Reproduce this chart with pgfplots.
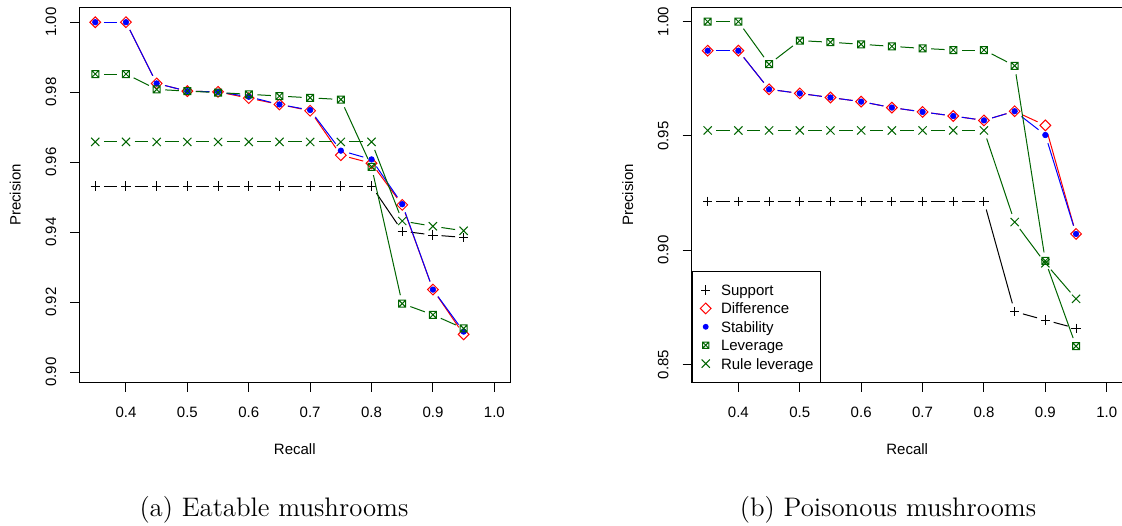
\documentclass[border=0pt]{standalone}
\usepackage{fontspec}
\usepackage{pgfplots}
\usepackage{pgfplotstable}
\pgfplotsset{compat=1.18}
\usetikzlibrary{decorations.pathreplacing}
\newfontfamily\rfont{Liberation Sans}
\definecolor{dgreen}{RGB}{0,100,0}

\pgfdeclareplotmark{boxx}{%
  \pgfpathrectangle{\pgfqpoint{-\pgfplotmarksize}{-\pgfplotmarksize}}{\pgfqpoint{2\pgfplotmarksize}{2\pgfplotmarksize}}%
  \pgfpathmoveto{\pgfqpoint{-\pgfplotmarksize}{-\pgfplotmarksize}}%
  \pgfpathlineto{\pgfqpoint{\pgfplotmarksize}{\pgfplotmarksize}}%
  \pgfpathmoveto{\pgfqpoint{-\pgfplotmarksize}{\pgfplotmarksize}}%
  \pgfpathlineto{\pgfqpoint{\pgfplotmarksize}{-\pgfplotmarksize}}%
  \pgfusepathqstroke}

\tikzset{gapline/.style={mark=none, decorate, decoration={show path construction,
  lineto code={\draw[decorate=false, #1, line width=0.5pt, shorten <=4.3pt, shorten >=4.3pt] (\tikzinputsegmentfirst) -- (\tikzinputsegmentlast);}}}}

% Eatable mushrooms
\pgfplotstableread{
x    sup    dif    sta    lev    rlev
0.35 0.9532 1.0000 1.0000 0.9852 0.9658
0.40 0.9532 1.0000 1.0000 0.9852 0.9658
0.45 0.9532 0.9825 0.9825 0.9808 0.9658
0.50 0.9532 0.9803 0.9803 0.9803 0.9658
0.55 0.9532 0.9801 0.9801 0.9799 0.9658
0.60 0.9532 0.9783 0.9787 0.9794 0.9658
0.65 0.9532 0.9765 0.9765 0.9789 0.9658
0.70 0.9532 0.9747 0.9749 0.9784 0.9658
0.75 0.9532 0.9620 0.9633 0.9779 0.9658
0.80 0.9532 0.9597 0.9608 0.9587 0.9658
0.85 0.9403 0.9478 0.9480 0.9196 0.9432
0.90 0.9392 0.9236 0.9236 0.9164 0.9417
0.95 0.9385 0.9108 0.9116 0.9125 0.9404
}\tabA

% Poisonous mushrooms
\pgfplotstableread{
x    sup    dif    sta    lev    rlev
0.35 0.9214 0.9873 0.9873 1.0000 0.9524
0.40 0.9214 0.9873 0.9873 1.0000 0.9524
0.45 0.9214 0.9704 0.9704 0.9814 0.9524
0.50 0.9214 0.9686 0.9686 0.9917 0.9524
0.55 0.9214 0.9668 0.9668 0.9910 0.9524
0.60 0.9214 0.9650 0.9650 0.9901 0.9524
0.65 0.9214 0.9624 0.9624 0.9892 0.9524
0.70 0.9214 0.9605 0.9605 0.9883 0.9524
0.75 0.9214 0.9587 0.9587 0.9876 0.9524
0.80 0.9214 0.9568 0.9568 0.9876 0.9524
0.85 0.8731 0.9608 0.9608 0.9807 0.9123
0.90 0.8694 0.9546 0.9504 0.8953 0.8943
0.95 0.8658 0.9071 0.9071 0.8580 0.8787
}\tabB

\pgfplotsset{
  rplot/.style={
    scale only axis, width=215.5pt, height=187.6pt,
    xmin=0.324, xmax=1.026,
    xtick={0.4,0.5,0.6,0.7,0.8,0.9,1.0},
    xticklabels={0.4,0.5,0.6,0.7,0.8,0.9,1.0},
    tick pos=left, tick align=outside, major tick length=4.5pt,
    tick style={black, line width=0.5pt},
    axis line style={black, line width=0.5pt},
    tick label style={font=\rfont\fontsize{7.5}{9}\selectfont},
    xticklabel style={anchor=center, yshift=-10.2pt},
    yticklabel style={xshift=-9.7pt, rotate=90, anchor=center},
    label style={font=\rfont\fontsize{7.5}{9}\selectfont},
    xlabel=Recall,
    xlabel style={at={(rel axis cs:0.5,-0.1767)}, anchor=center},
    ylabel=Precision,
    ylabel style={at={(rel axis cs:-0.1485,0.5)}, anchor=center, rotate=0},
    clip mode=individual,
  },
  msup/.style={only marks, mark=+, mark size=2.3pt, mark options={black, line width=0.5pt}},
  mdif/.style={only marks, mark=square, mark size=1.9pt, mark options={red, rotate=45, line width=0.5pt}},
  msta/.style={only marks, mark=*, mark size=1.4pt, mark options={blue, fill=blue, draw=blue, line width=0.3pt}},
  mlev/.style={only marks, mark=boxx, mark size=1.75pt, mark options={dgreen, line width=0.5pt}},
  mrlev/.style={only marks, mark=x, mark size=2.9pt, mark options={dgreen, line width=0.5pt}},
}

\begin{document}
\begin{tikzpicture}
\useasboundingbox (0,0) rectangle (561pt,262.5pt);

% (a) Eatable mushrooms
\begin{axis}[rplot, at={(39.65pt,71.15pt)}, anchor=south west,
  ymin=0.897, ymax=1.0042,
  ytick={0.90,0.92,0.94,0.96,0.98,1.00},
  yticklabels={0.90,0.92,0.94,0.96,0.98,1.00}]
\addplot[black, gapline=black] table[x=x, y=sup] {\tabA};
\addplot[black, msup] table[x=x, y=sup] {\tabA};
\addplot[red, gapline=red] table[x=x, y=dif] {\tabA};
\addplot[red, mdif] table[x=x, y=dif] {\tabA};
\addplot[blue, gapline=blue] table[x=x, y=sta] {\tabA};
\addplot[blue, msta] table[x=x, y=sta] {\tabA};
\addplot[dgreen, gapline=dgreen] table[x=x, y=lev] {\tabA};
\addplot[dgreen, mlev] table[x=x, y=lev] {\tabA};
\addplot[dgreen, gapline=dgreen] table[x=x, y=rlev] {\tabA};
\addplot[dgreen, mrlev] table[x=x, y=rlev] {\tabA};
\node[font=\fontsize{13.4}{16}\selectfont] at (rel axis cs:0.4517,-0.3393) {(a) Eatable mushrooms};
\end{axis}

% (b) Poisonous mushrooms
\begin{axis}[rplot, at={(345.85pt,71.15pt)}, anchor=south west,
  ymin=0.842, ymax=1.0062,
  ytick={0.85,0.90,0.95,1.00},
  yticklabels={0.85,0.90,0.95,1.00},
  legend cell align=left,
  legend style={at={(0,0)}, anchor=south west, draw=black, line width=0.5pt, fill=white,
    font=\rfont\fontsize{7.5}{9}\selectfont, inner xsep=3.5pt, inner ysep=4.7pt,
    row sep=0pt, column sep=0pt,
    nodes={inner sep=0pt, minimum height=9.2pt, text height=5.4pt, text depth=0pt}},
  legend image code/.code={\path (-3pt,0pt) (7.4pt,0pt); \draw[#1, line width=0.5pt] plot coordinates {(0pt,0pt)};}]
\addplot[black, gapline=black, forget plot] table[x=x, y=sup] {\tabB};
\addplot[black, msup, forget plot] table[x=x, y=sup] {\tabB};
\addplot[red, gapline=red, forget plot] table[x=x, y=dif] {\tabB};
\addplot[red, mdif, forget plot] table[x=x, y=dif] {\tabB};
\addplot[blue, gapline=blue, forget plot] table[x=x, y=sta] {\tabB};
\addplot[blue, msta, forget plot] table[x=x, y=sta] {\tabB};
\addplot[dgreen, gapline=dgreen, forget plot] table[x=x, y=lev] {\tabB};
\addplot[dgreen, mlev, forget plot] table[x=x, y=lev] {\tabB};
\addplot[dgreen, gapline=dgreen, forget plot] table[x=x, y=rlev] {\tabB};
\addplot[dgreen, mrlev, forget plot] table[x=x, y=rlev] {\tabB};
\addlegendimage{black, mark=+, mark size=2.3pt, mark options={black}}
\addlegendentry{Support}
\addlegendimage{red, mark=square, mark size=1.9pt, mark options={red, rotate=45}}
\addlegendentry{Difference}
\addlegendimage{blue, mark=*, mark size=1.2pt, mark options={blue, fill=blue}}
\addlegendentry{Stability}
\addlegendimage{dgreen, mark=boxx, mark size=1.6pt, mark options={dgreen}}
\addlegendentry{Leverage}
\addlegendimage{dgreen, mark=x, mark size=2.9pt, mark options={dgreen}}
\addlegendentry{Rule leverage}
\node[font=\fontsize{13.4}{16}\selectfont] at (rel axis cs:0.4555,-0.3393) {(b) Poisonous mushrooms};
\end{axis}
\end{tikzpicture}
\end{document}
